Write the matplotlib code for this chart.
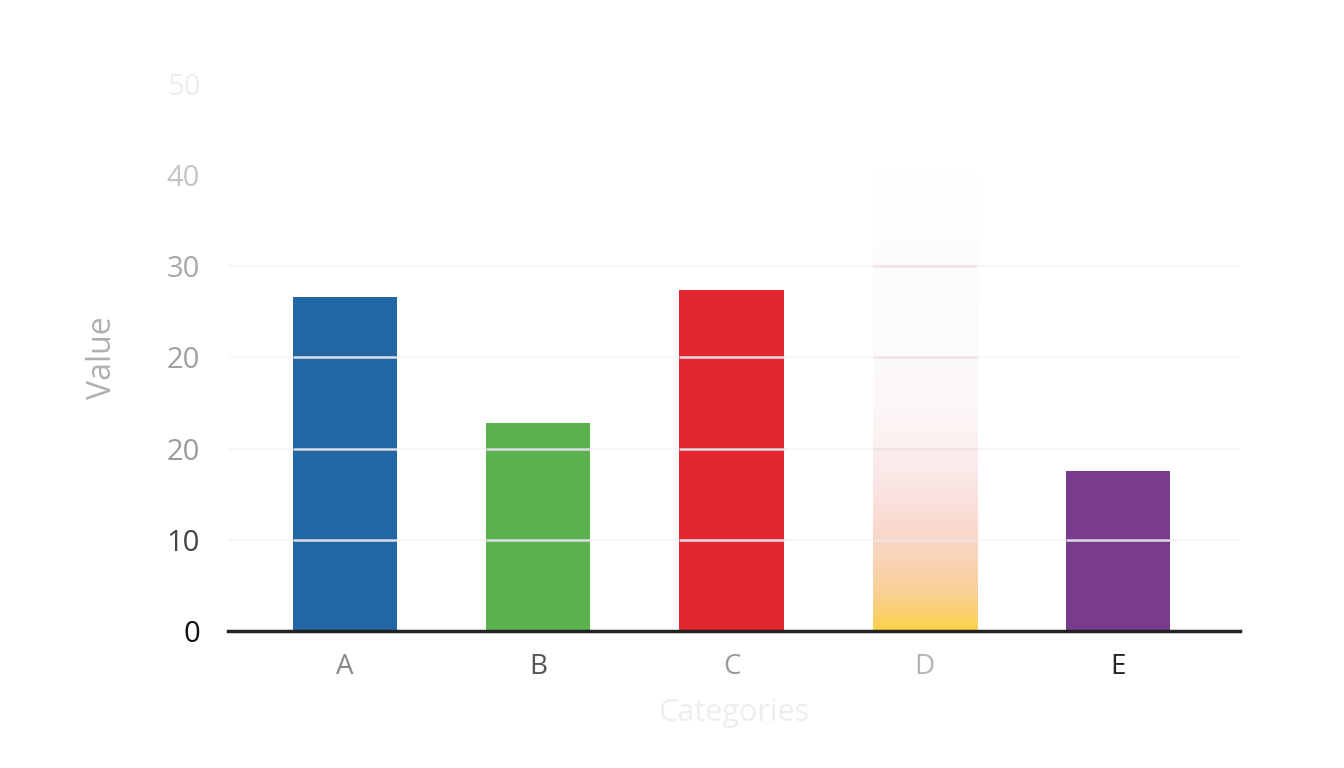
import matplotlib
matplotlib.use("Agg")
import matplotlib.pyplot as plt
import numpy as np
from matplotlib.colors import LinearSegmentedColormap

categories = ["A", "B", "C", "D", "E"]
values = [36.6, 22.8, 37.4, 50.0, 17.5]
bar_colors = ["#2366a4", "#5bb14b", "#e1272d", "#f5b845", "#793b8b"]
ytick_pos = [0, 10, 20, 30, 40, 50, 60]
ytick_labels = ["0", "10", "20", "20", "30", "40", "50"]

plt.rcParams['font.family'] = ['Open Sans', 'DejaVu Sans']

fig = plt.figure(figsize=(13.44, 7.68), dpi=100)
ax = fig.add_axes([0.1696, 0.1784, 0.7530, 0.7125])

x = np.arange(len(categories))
bars = ax.bar(x, values, width=0.54, color=bar_colors, zorder=2)

# bar D is drawn as a faded vertical gradient
d = bars[3]
d.set_alpha(0.0)
fade = LinearSegmentedColormap.from_list("fade", [
    (0.00, (0.99, 0.80, 0.20, 0.90)),
    (0.08, (0.97, 0.72, 0.35, 0.65)),
    (0.20, (0.96, 0.65, 0.50, 0.45)),
    (0.30, (0.94, 0.62, 0.60, 0.30)),
    (0.45, (0.93, 0.72, 0.72, 0.15)),
    (0.65, (0.90, 0.85, 0.85, 0.09)),
    (1.00, (0.92, 0.90, 0.90, 0.05)),
])
grad = np.linspace(0, 1, 256).reshape(-1, 1)
bx = d.get_x()
img = ax.imshow(grad, cmap=fade, origin="lower", aspect="auto",
                extent=[bx, bx + d.get_width(), 0, values[3]], zorder=2)
img.set_clip_path(d)

# grid lines, only really visible over the bars
for g in [10, 20, 30, 40]:
    ax.axhline(g, color="#f7f7f7", lw=1.6, zorder=1)
    for i, b in enumerate(bars):
        if b.get_height() > g:
            lc = "#f2e2e2" if i == 3 else "#dcdce4"
            ax.hlines(g, b.get_x(), b.get_x() + b.get_width(),
                      color=lc, lw=1.8, zorder=3)

ax.set_xlim(-0.605, 4.63)
ax.set_ylim(0, 60)
ax.set_xticks(x)
ax.set_xticklabels(categories, fontsize=20)
ax.set_yticks(ytick_pos)
ax.set_yticklabels(ytick_labels, fontsize=21)
ax.tick_params(axis="both", length=0)
ax.tick_params(axis="y", pad=20)
ax.tick_params(axis="x", pad=16)

ycols = ["#111111", "#444444", "#9a9a9a", "#a0a0a0", "#a8a8a8", "#c4c4c4", "#eeeeee"]
for lab, c in zip(ax.get_yticklabels(), ycols):
    lab.set_color(c)
xcols = ["#8a8a8a", "#555555", "#9a9a9a", "#b5b5b5", "#222222"]
for lab, c in zip(ax.get_xticklabels(), xcols):
    lab.set_color(c)

for s in ["top", "right", "left"]:
    ax.spines[s].set_visible(False)
ax.spines["bottom"].set_linewidth(2.5)
ax.spines["bottom"].set_color("#222222")
ax.spines["bottom"].set_zorder(4)

ax.set_ylabel("Value", fontsize=23, color="#b0b0b0", labelpad=34)
ax.set_xlabel("Categories", fontsize=22, color="#eeeeee", labelpad=12)

fig.savefig("out.png", dpi=100)
